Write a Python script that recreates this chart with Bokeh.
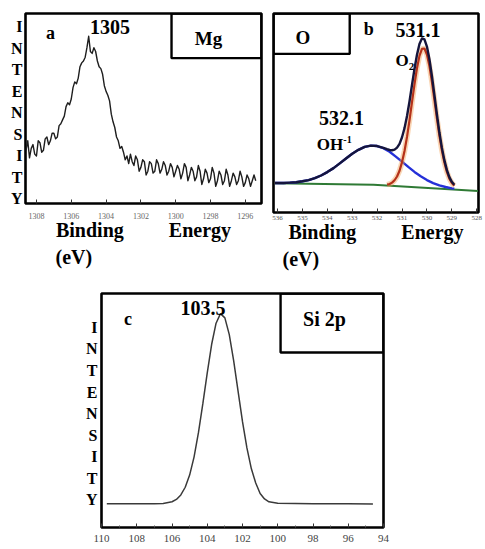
from bokeh.plotting import figure
from bokeh.models import Range1d, FixedTicker, Label, BoxAnnotation, CustomJSTickFormatter
from bokeh.layouts import column, row
from bokeh.embed import file_html
from bokeh.resources import INLINE

# ---------------- Panel a : Mg ----------------
mg_be = [1308.6, 1308.5, 1308.4, 1308.3, 1308.2, 1308.1, 1308.0, 1307.9, 1307.8, 1307.7,
         1307.6, 1307.5, 1307.4, 1307.3, 1307.2, 1307.1, 1307.0, 1306.9, 1306.8, 1306.7,
         1306.6, 1306.5, 1306.4, 1306.3, 1306.2, 1306.1, 1306.0, 1305.9, 1305.8, 1305.7,
         1305.6, 1305.5, 1305.4, 1305.3, 1305.2, 1305.1, 1305.0, 1304.9, 1304.8, 1304.7,
         1304.6, 1304.5, 1304.4, 1304.3, 1304.2, 1304.1, 1304.0, 1303.9, 1303.8, 1303.7,
         1303.6, 1303.5, 1303.4, 1303.3, 1303.2, 1303.1, 1303.0, 1302.9, 1302.8, 1302.7,
         1302.6, 1302.5, 1302.4, 1302.3, 1302.2, 1302.1, 1302.0, 1301.9, 1301.8, 1301.7,
         1301.6, 1301.5, 1301.4, 1301.3, 1301.2, 1301.1, 1301.0, 1300.9, 1300.8, 1300.7,
         1300.6, 1300.5, 1300.4, 1300.3, 1300.2, 1300.1, 1300.0, 1299.9, 1299.8, 1299.7,
         1299.6, 1299.5, 1299.4, 1299.3, 1299.2, 1299.1, 1299.0, 1298.9, 1298.8, 1298.7,
         1298.6, 1298.5, 1298.4, 1298.3, 1298.2, 1298.1, 1298.0, 1297.9, 1297.8, 1297.7,
         1297.6, 1297.5, 1297.4, 1297.3, 1297.2, 1297.1, 1297.0, 1296.9, 1296.8, 1296.7,
         1296.6, 1296.5, 1296.4, 1296.3, 1296.2, 1296.1, 1296.0, 1295.9, 1295.8, 1295.7,
         1295.6, 1295.5, 1295.4]
mg_int = [28, 33, 24, 29, 31, 26, 25, 33, 32, 27,
          28, 34, 35, 31, 33, 37, 37, 34, 35, 41,
          42, 44, 46, 51, 53, 52, 55, 61, 64, 63,
          66, 72, 74, 75, 77, 82, 88, 80, 79, 82,
          80, 75, 72, 71, 68, 62, 59, 57, 54, 47,
          43, 40, 35, 33, 29, 30, 27, 23, 25, 21,
          26, 22, 20, 25, 23, 17, 19, 23, 22, 15,
          17, 22, 21, 16, 17, 23, 21, 16, 18, 22,
          20, 15, 17, 21, 19, 14, 17, 20, 18, 13,
          16, 21, 19, 12, 15, 19, 17, 12, 14, 20,
          17, 10, 13, 18, 16, 11, 13, 19, 16, 9,
          12, 17, 15, 10, 12, 18, 15, 9, 12, 16,
          14, 10, 12, 17, 14, 9, 11, 15, 13, 9,
          12, 15, 12]
mg_ticks = [1308, 1306, 1304, 1302, 1300, 1298, 1296]

# ---------------- Panel b : O ----------------
o_ticks = [536, 535, 534, 533, 532, 531, 530, 529, 528]
o_base_be = [536.1, 532.14, 529.45, 527.95]
o_base = [14.7, 13.9, 11.9, 10.75]
o_blue_be = [536.1, 536.0, 535.75, 535.5, 535.25, 535.0, 534.75, 534.5, 534.25, 534.0,
             533.75, 533.5, 533.25, 533.0, 532.75, 532.5, 532.25, 532.0, 531.75, 531.5,
             531.25, 531.0, 530.75, 530.5, 530.25, 530.0, 529.75, 529.5, 529.25, 529.0, 528.9]
o_blue = [14.8, 14.8, 14.85, 15.0, 15.2, 15.7, 16.3, 17.3, 18.6, 20.3,
          22.3, 24.7, 27.1, 29.5, 31.5, 33.0, 33.6, 33.4, 32.3, 30.5,
          28.1, 25.55, 22.9, 20.4, 18.2, 16.3, 14.8, 13.6, 12.8, 12.1, 12.0]
o_red_be = [531.6, 531.5, 531.4, 531.3, 531.2, 531.1, 531.0, 530.9, 530.8, 530.7,
            530.6, 530.5, 530.4, 530.3, 530.2, 530.1, 530.0, 529.9, 529.8, 529.7,
            529.6, 529.5, 529.4, 529.3, 529.2, 529.1, 529.0, 528.9]
o_red = [14.0, 14.3, 15.0, 16.2, 18.1, 21.0, 25.3, 30.9, 38.0, 46.3,
         55.5, 64.4, 72.5, 78.7, 82.2, 82.4, 79.4, 73.6, 65.7, 56.6,
         47.3, 38.6, 31.2, 25.1, 20.4, 17.0, 14.8, 13.4]
o_env_be = [536.1, 536.0, 535.75, 535.5, 535.25, 535.0, 534.75, 534.5, 534.25, 534.0,
            533.75, 533.5, 533.25, 533.0, 532.75, 532.5, 532.25, 532.0, 531.75,
            531.6, 531.5, 531.4, 531.3, 531.2, 531.1, 531.0, 530.9, 530.8, 530.7,
            530.6, 530.5, 530.4, 530.3, 530.2, 530.1, 530.0, 529.9, 529.8, 529.7,
            529.6, 529.5, 529.4, 529.3, 529.2, 529.1, 529.0, 528.9]
o_env = [14.8, 14.8, 14.85, 15.0, 15.2, 15.7, 16.3, 17.3, 18.6, 20.3,
         22.3, 24.7, 27.1, 29.5, 31.5, 33.0, 33.6, 33.4, 32.5,
         31.8, 31.4, 31.3, 31.6, 32.6, 34.5, 37.8, 42.4, 48.5, 55.8,
         64.1, 72.1, 79.3, 84.7, 87.5, 87.0, 83.4, 77.0, 68.6, 59.1,
         49.4, 40.3, 32.6, 26.3, 21.4, 17.8, 15.4, 13.9]

# ---------------- Panel c : Si 2p ----------------
si_be = [109.7, 108.0, 107.0, 106.5, 106.0, 105.75, 105.5, 105.25, 105.0, 104.75,
         104.5, 104.25, 104.0, 103.75, 103.5, 103.25, 103.0, 102.75, 102.5, 102.25,
         102.0, 101.75, 101.5, 101.25, 101.0, 100.75, 100.5, 100.0, 98.0, 96.0, 94.6]
si_int = [10.2, 10.2, 10.2, 10.3, 11.0, 12.0, 13.9, 17.2, 22.4, 30.1,
          40.5, 52.9, 66.1, 78.3, 87.3, 91.4, 89.6, 82.4, 71.2, 58.2,
          45.2, 34.0, 25.2, 19.0, 14.5, 12.2, 11.0, 10.4, 10.2, 10.1, 10.0]
si_ticks = [110, 108, 106, 104, 102, 100, 98, 96, 94]

axis_word = "INTENSITY"
x_title_words = ("Binding", "Energy")
x_unit = "(eV)"
FONT = "Liberation Serif"
NB = "\u00a0"


def make_fig(x0, x1, fw, fh, l, r, t, b, with_title=False):
    kw = {}
    if with_title:
        kw["title_location"] = "below"
    p = figure(x_range=Range1d(x0, x1), y_range=Range1d(0, 100),
               frame_width=fw, frame_height=fh,
               min_border_left=l, min_border_right=r,
               min_border_top=t, min_border_bottom=b,
               output_backend="svg", toolbar_location=None, **kw)
    p.grid.visible = False
    p.outline_line_color = "black"
    p.outline_line_width = 2.6
    p.background_fill_color = "white"
    p.border_fill_color = "white"
    ax = p.xaxis[0]
    ax.axis_line_color = None
    ax.major_tick_in = 4
    ax.major_tick_out = 0
    ax.minor_tick_in = 2
    ax.minor_tick_out = 0
    ax.major_tick_line_color = "#333333"
    ax.minor_tick_line_color = "#555555"
    ax.major_label_text_font = FONT
    ay = p.yaxis[0]
    ay.visible = False
    return p


def intensity_axis(p, ticks, standoff):
    ay = p.yaxis[0]
    ay.visible = True
    ay.ticker = FixedTicker(ticks=ticks, minor_ticks=[])
    ay.formatter = CustomJSTickFormatter(args=dict(word=axis_word),
                                         code="return word[word.length - 1 - index];")
    ay.axis_line_color = None
    ay.major_tick_line_color = None
    ay.minor_tick_line_color = None
    ay.major_tick_out = 0
    ay.major_tick_in = 0
    ay.major_label_standoff = standoff
    ay.major_label_text_font = FONT
    ay.major_label_text_font_style = "bold"
    ay.major_label_text_font_size = "16px"
    ay.major_label_text_color = "black"


def x_title(p, gap, unit_offset, standoff):
    ax = p.xaxis[0]
    ax.axis_label = x_title_words[0] + NB * gap + x_title_words[1]
    ax.axis_label_text_font = FONT
    ax.axis_label_text_font_style = "bold"
    ax.axis_label_text_font_size = "20px"
    ax.axis_label_text_color = "black"
    ax.axis_label_standoff = standoff
    p.title.text = x_unit
    p.title.align = "left"
    p.title.offset = unit_offset
    p.title.standoff = 0
    p.title.text_font = FONT
    p.title.text_font_style = "bold"
    p.title.text_font_size = "20px"
    p.title.text_color = "black"


def lab(p, x, y, text, size, bold=True):
    p.add_layout(Label(x=x, y=y, text=text, text_font=FONT,
                       text_font_size=f"{size}px",
                       text_font_style="bold" if bold else "normal",
                       text_align="center", text_baseline="middle",
                       text_color="black"))


def box(p, left, right, bottom, top):
    p.add_layout(BoxAnnotation(left=left, right=right, bottom=bottom, top=top,
                               fill_color=None, fill_alpha=0, line_color="black",
                               line_alpha=1.0, line_width=2.4))


H1 = 272

# ---- figure a ----
fa = make_fig(1308.63, 1295.07, 236, 190, 25, 6, 13, H1 - 203, with_title=True)
fa.xaxis.ticker = FixedTicker(ticks=mg_ticks, minor_ticks=[])
fa.xaxis.major_label_text_font_size = "8px"
fa.xaxis.major_label_text_color = "#666666"
fa.xaxis.major_label_standoff = 9
x_title(fa, 9, 30, -3)
intensity_axis(fa, [2.4, 13.7, 25.1, 36.4, 47.8, 59.1, 70.5, 81.8, 93.2], 3)
fa.line(mg_be, mg_int, line_color="#1e1e1e", line_width=1.4, line_join="round")
box(fa, 1300.24, 1295.07, 76.5, 100)
lab(fa, 1307.19, 90.0, "a", 18)
lab(fa, 1303.77, 92.8, "1305", 20)
lab(fa, 1298.11, 86.6, "Mg", 19)

# ---- figure b ----
fb = make_fig(536.16, 527.93, 205, 199, 6, 7, 13, H1 - 212, with_title=True)
fb.xaxis.ticker = FixedTicker(ticks=o_ticks, minor_ticks=[])
fb.xaxis.major_label_text_font_size = "7px"
fb.xaxis.major_label_text_color = "#555555"
fb.xaxis.major_label_standoff = 3
x_title(fb, 9, 9, -2)
fb.line(o_base_be, o_base, line_color="#2f7a35", line_width=2.0)
fb.line(o_blue_be, o_blue, line_color="#2530d8", line_width=2.4)
fb.line(o_red_be, o_red, line_color="#f2a35a", line_width=5.5, line_alpha=0.45)
fb.line(o_red_be, o_red, line_color="#b5321a", line_width=2.2)
fb.line(o_env_be, o_env, line_color="#15153c", line_width=2.4, line_join="round")
box(fb, 536.16, 533.10, 79.7, 100)
lab(fb, 534.98, 88.1, "O", 19)
lab(fb, 532.34, 92.0, "b", 18)
lab(fb, 530.36, 91.5, "531.1", 20)
lab(fb, 531.0, 76.4, "O", 17)
lab(fb, 530.62, 73.4, "2", 11)
lab(fb, 533.43, 47.5, "532.1", 20)
lab(fb, 533.89, 34.2, "OH", 17)
lab(fb, 533.19, 36.9, "-1", 10)

# ---- figure c ----
fc = make_fig(110.0, 94.0, 282, 234, 101, 102, 293 - H1, 549 - 527)
fc.xaxis.ticker = FixedTicker(ticks=si_ticks, minor_ticks=[t - 1 for t in si_ticks[:-1]])
fc.xaxis.major_label_text_font_size = "11px"
fc.xaxis.major_label_text_color = "#444444"
fc.xaxis.major_label_standoff = 7
intensity_axis(fc, [11.9, 21.1, 30.3, 39.5, 48.7, 57.9, 67.1, 76.3, 85.5], 4)
fc.line(si_be, si_int, line_color="#3a3a3a", line_width=1.5)
box(fc, 99.84, 94.0, 74.8, 100)
lab(fc, 108.50, 89.3, "c", 18)
lab(fc, 104.24, 94.0, "103.5", 20)
lab(fc, 97.35, 88.9, "Si 2p", 20)

layout = column(row(fa, fb), fc)
open("out.html", "w").write(file_html(layout, INLINE))
